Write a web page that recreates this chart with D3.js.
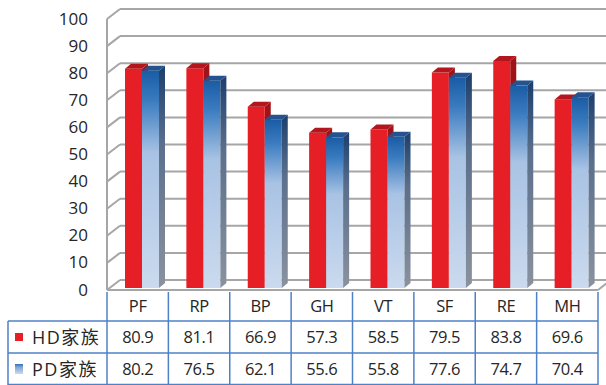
<!DOCTYPE html>
<html>
<head>
<meta charset="utf-8">
<script src="https://cdn.jsdelivr.net/npm/d3@7"></script>
<style>
  body { margin: 0; background: #fff; }
  svg { display: block; }
  text { font-family: "Open Sans", "Noto Sans CJK SC", sans-serif; fill: #262626; }
</style>
</head>
<body>
<div id="chart"></div>
<script>
// data
const categories = ["PF", "RP", "BP", "GH", "VT", "SF", "RE", "MH"];
const hdValues = [80.9, 81.1, 66.9, 57.3, 58.5, 79.5, 83.8, 69.6];
const pdValues = [80.2, 76.5, 62.1, 55.6, 55.8, 77.6, 74.7, 70.4];
const seriesNames = ["HD家族", "PD家族"];
const yTicks = [0, 10, 20, 30, 40, 50, 60, 70, 80, 90, 100];

const width = 606;
const height = 385;

// 3d box geometry
const depthX = 13;
const depthY = -10;
const barShiftX = 2.6;
const barDX = 6;
const barDY = -5;

const svg = d3.select("#chart").append("svg")
  .attr("width", width)
  .attr("height", height);

const defs = svg.append("defs");

const blueFront = defs.append("linearGradient")
  .attr("id", "blueFront").attr("x1", 0).attr("y1", 0).attr("x2", 0).attr("y2", 1);
[["0%", "#1a5ca5"], ["14%", "#3b7cc0"], ["38%", "#a9c3e4"], ["100%", "#cbdaee"]]
  .forEach(([o, c]) => blueFront.append("stop").attr("offset", o).attr("stop-color", c));

const blueSide = defs.append("linearGradient")
  .attr("id", "blueSide").attr("x1", 0).attr("y1", 0).attr("x2", 0).attr("y2", 1);
[["0%", "#1b3e6c"], ["35%", "#5b6f8c"], ["100%", "#8a929e"]]
  .forEach(([o, c]) => blueSide.append("stop").attr("offset", o).attr("stop-color", c));

const legendBlue = defs.append("linearGradient")
  .attr("id", "legendBlue").attr("x1", 0).attr("y1", 0).attr("x2", 0).attr("y2", 1);
[["0%", "#2f6fb8"], ["30%", "#7fa4d4"], ["100%", "#cbdaee"]]
  .forEach(([o, c]) => legendBlue.append("stop").attr("offset", o).attr("stop-color", c));

const x = d3.scaleBand()
  .domain(categories)
  .range([107, 598]);

const xSeries = d3.scaleBand()
  .domain(seriesNames)
  .range([15.4, 49.4]);

const y = d3.scaleLinear()
  .domain([0, 100])
  .range([290, 19]);

const yBar = d3.scaleLinear()
  .domain([0, 100])
  .range([288, 17]);

const x0 = x.range()[0];
const x1 = x.range()[1];

// walls and gridlines
const grid = svg.append("g")
  .attr("stroke", "#a6a6a6")
  .attr("stroke-width", 2)
  .attr("fill", "none");

grid.selectAll("line.back")
  .data(yTicks)
  .join("line")
  .attr("class", "back")
  .attr("x1", x0 + depthX)
  .attr("x2", width + 5)
  .attr("y1", (d) => y(d) + depthY)
  .attr("y2", (d) => y(d) + depthY);

grid.selectAll("line.side")
  .data(yTicks)
  .join("line")
  .attr("class", "side")
  .attr("x1", x0)
  .attr("x2", x0 + depthX)
  .attr("y1", (d) => y(d))
  .attr("y2", (d) => y(d) + depthY);

grid.append("line")
  .attr("x1", x0).attr("x2", x0)
  .attr("y1", y(0)).attr("y2", y(100));

grid.append("line")
  .attr("x1", x0).attr("x2", x1)
  .attr("y1", y(0)).attr("y2", y(0));

grid.append("line")
  .attr("x1", x1).attr("x2", x1 + depthX)
  .attr("y1", y(0)).attr("y2", y(0) + depthY);

// y labels
svg.append("g")
  .selectAll("text")
  .data(yTicks)
  .join("text")
  .attr("x", 88)
  .attr("y", (d) => y(d) + 1)
  .attr("text-anchor", "end")
  .attr("dominant-baseline", "middle")
  .style("font-size", "17px")
  .text((d) => d);

// bars
const rows = categories.map((c, i) => ({ cat: c, hd: hdValues[i], pd: pdValues[i] }));

function drawBar(g, d, v, series, front, side, top) {
  const bx = x(d.cat) + barShiftX + xSeries(series);
  const bw = xSeries.bandwidth();
  const by = yBar(v);
  const base = yBar(0);
  const out = {};
  out.side = () => g.append("path")
    .attr("d", `M${bx + bw},${by} L${bx + bw + barDX},${by + barDY} L${bx + bw + barDX},${base + barDY} L${bx + bw},${base} Z`)
    .attr("fill", side);
  out.front = () => g.append("rect")
    .attr("x", bx).attr("y", by)
    .attr("width", bw).attr("height", base - by)
    .attr("fill", front);
  out.top = () => g.append("path")
    .attr("d", `M${bx},${by} L${bx + bw},${by} L${bx + bw + barDX},${by + barDY} L${bx + barDX},${by + barDY} Z`)
    .attr("fill", top);
  return out;
}

const barsG = svg.append("g");
rows.forEach((d) => {
  const g = barsG.append("g");
  const red = drawBar(g, d, d.hd, seriesNames[0], "#e61e25", "#9e1419", "#b3171d");
  const blue = drawBar(g, d, d.pd, seriesNames[1], "url(#blueFront)", "url(#blueSide)", "#24538f");
  red.side(); red.front(); red.top();
  blue.front(); blue.side(); blue.top();
});

// data table
const tableTop = y(0);
const rowH = [31, 32, 32];
const rowY = [tableTop, tableTop + rowH[0], tableTop + rowH[0] + rowH[1], height];
const tableLeft = 8;

const tbl = svg.append("g")
  .attr("stroke", "#4f81c7")
  .attr("stroke-width", 1.5);

tbl.selectAll("line.v")
  .data(categories.concat(["end"]))
  .join("line")
  .attr("class", "v")
  .attr("x1", (d, i) => (i < categories.length ? x(d) : x1))
  .attr("x2", (d, i) => (i < categories.length ? x(d) : x1))
  .attr("y1", rowY[0] + 2)
  .attr("y2", height);

tbl.selectAll("line.h")
  .data([rowY[1], rowY[2], height - 0.5])
  .join("line")
  .attr("class", "h")
  .attr("x1", tableLeft)
  .attr("x2", x1)
  .attr("y1", (d) => d)
  .attr("y2", (d) => d);

tbl.append("line")
  .attr("x1", tableLeft).attr("x2", tableLeft)
  .attr("y1", rowY[1]).attr("y2", height);

const cellText = svg.append("g")
  .style("font-size", "16.5px")
  .style("letter-spacing", "-0.4px")
  .attr("text-anchor", "middle");

cellText.selectAll("text.cat")
  .data(categories)
  .join("text")
  .attr("class", "cat")
  .attr("x", (d) => x(d) + x.bandwidth() / 2)
  .attr("y", (rowY[0] + rowY[1]) / 2 + 6)
  .text((d) => d);

cellText.selectAll("text.hd")
  .data(rows)
  .join("text")
  .attr("class", "hd")
  .attr("x", (d) => x(d.cat) + x.bandwidth() / 2)
  .attr("y", (rowY[1] + rowY[2]) / 2 + 6)
  .text((d) => d.hd.toFixed(1));

cellText.selectAll("text.pd")
  .data(rows)
  .join("text")
  .attr("class", "pd")
  .attr("x", (d) => x(d.cat) + x.bandwidth() / 2)
  .attr("y", (rowY[2] + rowY[3]) / 2 + 6)
  .text((d) => d.pd.toFixed(1));

// legend cells
const legendFills = ["#e61e25", "url(#legendBlue)"];
seriesNames.forEach((name, i) => {
  const cy = (rowY[i + 1] + rowY[i + 2]) / 2;
  svg.append("rect")
    .attr("x", 15).attr("y", cy - 4 - i)
    .attr("width", 8).attr("height", 8 + i * 2)
    .attr("fill", legendFills[i]);
  svg.append("text")
    .attr("x", 32)
    .attr("y", cy + 6.5)
    .style("font-size", "18px")
    .style("letter-spacing", "1.5px")
    .text(name);
});
</script>
</body>
</html>
